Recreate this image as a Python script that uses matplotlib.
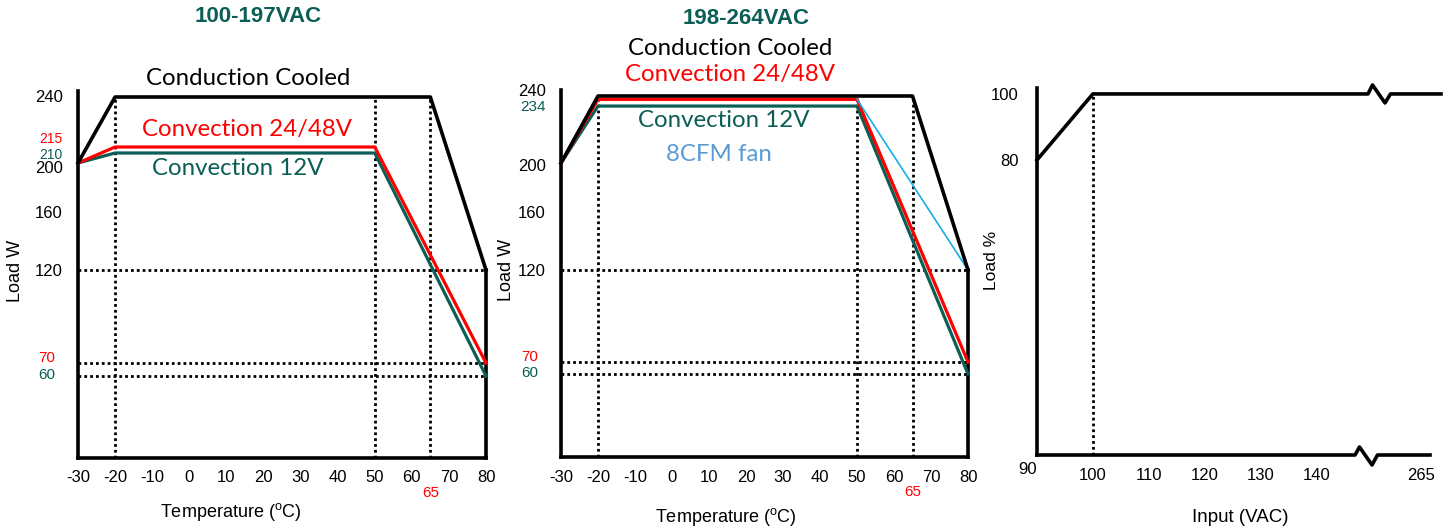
import numpy as np
import matplotlib
matplotlib.use("Agg")
import matplotlib.pyplot as plt
from matplotlib.transforms import blended_transform_factory

# ---- data ----
temp_ticks = [-30, -20, -10, 0, 10, 20, 30, 40, 50, 60, 70, 80]
guide_temps = [-20, 50, 65]
guide_loads = [120, 70, 60]
black_ticks = [160, 120]

cond_x = [-30, -20, 65, 80]
cond_y = [200, 240, 240, 120]
conv_x = [-30, -20, 50, 80]

lo_conv48_y = [200, 215, 215, 70]
lo_conv12_y = [200, 210, 210, 60]
hi_conv48_y = [200, 238, 238, 70]
hi_conv12_y = [200, 234, 234, 60]
fan_x = [50, 80]
fan_y = [238, 120]

lo_marks = [240, 215, 210, 200, 70, 60]
hi_marks = [240, 234, 200, 70, 60]

input_x = [90, 100, 273]
input_y = [80, 100, 100]
input_ticks = [90, 100, 110, 120, 130, 140, 265]
pct_ticks = [80, 100]
bottom_end = 268.6

# ---- style ----
TEAL = "#0B5E55"
RED = "#FF0000"
CYAN = "#14AFE8"
FANTXT = "#5B9BD5"
ARIAL = "Liberation Sans"
CALI = "Lato"
plt.rcParams["font.family"] = ARIAL
plt.rcParams["axes.unicode_minus"] = False

W, H = 1451, 532
fig = plt.figure(figsize=(W / 100, H / 100), dpi=100)


def rect(l, b, r, t):
    return [l / W, (H - b) / H, (r - l) / W, (b - t) / H]


def piecewise(vals, pos):
    return (lambda v: np.interp(v, vals, pos),
            lambda p: np.interp(p, pos, vals))


mark_color = {240: "black", 200: "black", 215: RED, 210: TEAL, 234: TEAL,
              70: RED, 60: TEAL}
mark_size = {240: 12, 200: 12, 215: 10, 210: 10}


def derating(ax, knots_v, knots_p, marks, dy, title, tpos, labels):
    ax.set_yscale("function", functions=piecewise(knots_v, knots_p))
    ax.set_xlim(-30, 80)
    ax.set_ylim(0, 250)
    for s in ["top", "right"]:
        ax.spines[s].set_visible(False)
    ax.spines["left"].set_bounds(0, 243.5)
    for s in ["left", "bottom"]:
        ax.spines[s].set_linewidth(2.6)
    ax.plot([80, 80], [0, 120], color="black", lw=2.6, clip_on=False,
            solid_capstyle="projecting")

    dot = dict(color="black", lw=2.0, ls=(0, (1, 1.1)), clip_on=False, zorder=1)
    for t in guide_temps:
        ax.plot([t, t], [0, 240], **dot)
    for ld in guide_loads:
        ax.plot([-30, 80], [ld, ld], **dot)

    ax.set_xticks(temp_ticks)
    ax.set_yticks(black_ticks)
    ax.tick_params(length=0, labelsize=12)
    ax.tick_params(axis="x", pad=9)
    ax.tick_params(axis="y", pad=11)

    tr = blended_transform_factory(ax.transAxes, ax.transData)
    for m in marks:
        ax.annotate(str(m), xy=(0, m), xycoords=tr,
                    xytext=(-11 if m > 100 else -16.5, dy.get(m, 0)),
                    textcoords="offset points", ha="right", va="center",
                    fontsize=mark_size.get(m, 11), color=mark_color[m])
    ax.annotate("65", xy=(65, 0), xytext=(0, -25), textcoords="offset points",
                ha="center", va="center", fontsize=11, color=RED)

    ax.text(tpos[0], tpos[1], title, transform=ax.transAxes, ha="center",
            va="center", fontsize=16, fontweight="bold", color=TEAL)
    for txt, x, y, c in labels:
        ax.text(x, y, txt, transform=ax.transAxes, ha="center", va="center",
                fontsize=17.3, color=c, family=CALI)
    ax.set_xlabel("Temperature ($^\\mathregular{o}$C)", fontsize=13)
    ax.xaxis.label.set_va("center")
    ax.set_ylabel("Load W", fontsize=13)
    ax.yaxis.label.set_va("center")


ax1 = fig.add_axes(rect(78, 458, 486, 80))
derating(ax1,
         [0, 60, 70, 120, 160, 200, 210, 215, 240, 250],
         [0, 82, 95, 188, 246, 295, 305, 311, 361, 378],
         lo_marks, {215: 5.5, 210: -1.5, 200: -4, 70: 3.5, 60: 1},
         "100-197VAC", (0.441, 1.169),
         [("Conduction Cooled", 0.417, 1.005, "black"),
          ("Convection 24/48V", 0.414, 0.870, RED),
          ("Convection 12V", 0.392, 0.767, TEAL)])
ax1.plot(conv_x, lo_conv12_y, color=TEAL, lw=2.3, clip_on=False, zorder=3)
ax1.plot(conv_x, lo_conv48_y, color=RED, lw=2.3, clip_on=False, zorder=3)
ax1.plot(cond_x, cond_y, color="black", lw=2.6, clip_on=False, zorder=4)
ax1.xaxis.set_label_coords(0.375, -0.143)
ax1.yaxis.set_label_coords(-0.152, 0.496)

ax2 = fig.add_axes(rect(561, 457, 968, 79))
derating(ax2,
         [0, 60, 70, 120, 160, 200, 240, 250],
         [0, 83, 95, 187, 245, 294, 361, 378],
         hi_marks, {240: 3, 234: -0.5, 200: -2.5, 70: 3.5, 60: 1},
         "198-264VAC", (0.455, 1.161),
         [("Conduction Cooled", 0.415, 1.08, "black"),
          ("Convection 24/48V", 0.415, 1.013, RED),
          ("Convection 12V", 0.400, 0.889, TEAL),
          ("8CFM fan", 0.388, 0.799, FANTXT)])
ax2.plot(conv_x, hi_conv12_y, color=TEAL, lw=2.3, clip_on=False, zorder=3)
ax2.plot(conv_x, hi_conv48_y, color=RED, lw=2.3, clip_on=False, zorder=3)
ax2.plot(fan_x, fan_y, color=CYAN, lw=1.2, clip_on=False, zorder=3)
ax2.plot(cond_x, cond_y, color="black", lw=2.6, clip_on=False, zorder=4)
ax2.xaxis.set_label_coords(0.405, -0.159)
ax2.yaxis.set_label_coords(-0.135, 0.495)

# ---- input derating with axis break ----
ax3 = fig.add_axes(rect(1037, 455, 1441, 88))
fwd, inv = piecewise([90, 150, 255, 273], [0, 335, 359, 404])
ax3.set_xscale("function", functions=(fwd, inv))
ax3.set_xlim(90, 273)
ax3.set_ylim(-9.4, 101.8)
for s in ["top", "right", "bottom"]:
    ax3.spines[s].set_visible(False)
ax3.spines["left"].set_linewidth(2.6)
ax3.set_xticks(input_ticks)
ax3.set_yticks(pct_ticks)
ax3.tick_params(length=0, labelsize=12)
ax3.tick_params(axis="x", pad=9)
ax3.tick_params(axis="y", pad=13)
first = ax3.get_xticklabels()[0]
first.set_ha("right")
first.set_y(0.015)


def with_break(xs, ys, p0, up, down):
    # insert a zigzag break into the flat tail of a line (px offsets)
    y = ys[-1]
    zx = inv(np.array([p0, p0 + 4.5, p0 + 17, p0 + 22.5]))
    zy = [y, y + up / 3.3, y - down / 3.3, y]
    return list(xs[:-1]) + list(zx) + [xs[-1]], list(ys[:-1]) + zy + [y]


tx, ty = with_break(input_x, input_y, 331, 9, 9)
ax3.plot(tx, ty, color="black", lw=2.6, clip_on=False)
bx, by = with_break([90, bottom_end], [-9.4, -9.4], 318, 8, 10)
ax3.plot(bx, by, color="black", lw=2.6, clip_on=False)
ax3.plot([100, 100], [-9.4, 100], color="black", lw=2.0, ls=(0, (1, 1.1)),
         clip_on=False)
ax3.set_xlabel("Input (VAC)", fontsize=13.5)
ax3.xaxis.set_label_coords(0.502, -0.169)
ax3.xaxis.label.set_va("center")
ax3.set_ylabel("Load %", fontsize=12.5)
ax3.yaxis.set_label_coords(-0.112, 0.53)
ax3.yaxis.label.set_va("center")

fig.savefig("out.png", dpi=100)
